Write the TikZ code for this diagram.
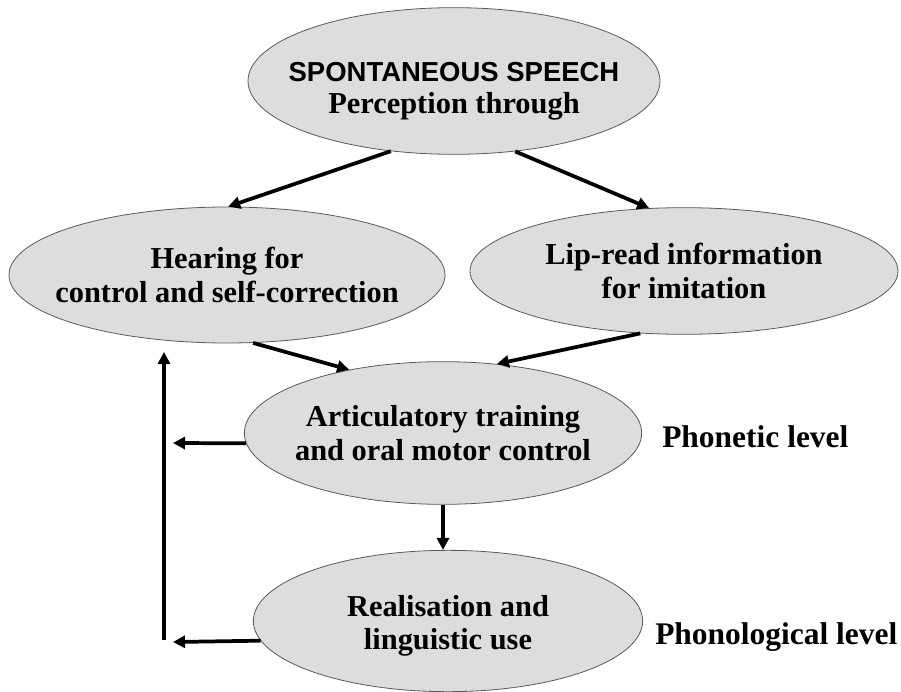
\documentclass[tikz,border=0pt]{standalone}
\usepackage{fontspec}
\setmainfont{Liberation Serif}
\setsansfont{Liberation Sans}
\usetikzlibrary{arrows.meta,shapes.geometric}
\definecolor{ovalgray}{RGB}{221,221,221}
\definecolor{rimgray}{RGB}{90,90,90}

\begin{document}
\begin{tikzpicture}[
    x=0.75pt,
    y=-0.75pt,
    oval/.style={ellipse, fill=ovalgray, draw=rimgray, line width=0.6pt,
        inner sep=-40pt, align=center,
        font=\bfseries\fontsize{22.8}{25}\selectfont},
    arr/.style={line width=2.8pt, -{Triangle[length=9pt,width=9pt]}},
    lvl/.style={anchor=west, inner sep=0pt,
        font=\bfseries\fontsize{23.6}{25}\selectfont}
]
\useasboundingbox (0,0) rectangle (901,692);

% Ovals
\node[oval, minimum width=309pt, minimum height=110pt] (spont) at (454,81)
    {\rule{0pt}{30pt}{\sffamily\fontsize{20.6}{24}\selectfont SPONTANEOUS SPEECH}\\[-1pt]Perception through};
\node[oval, minimum width=327pt, minimum height=102pt] (hear) at (227,275)
    {Hearing for\\control and self-correction};
\node[oval, minimum width=321pt, minimum height=95pt] (lip) at (684,271)
    {Lip-read information\\for imitation};
\node[oval, minimum width=298pt, minimum height=107pt] (artic) at (443,433)
    {Articulatory training\\and oral motor control};
\node[oval, minimum width=292pt, minimum height=106pt] (real) at (448,621)
    {\rule{0pt}{23pt}Realisation and\\linguistic use};

% Level labels
\node[lvl] (phonetic) at (662,437) {Phonetic level};
\node[lvl] (phonol) at (655,637) {Phonological level};

% Feedback loop ends
\coordinate (tipA) at (173,443);
\coordinate (tipB) at (173,642);
\coordinate (loopbot) at (164,640);
\coordinate (looptop) at (164,352);

% Arrows
\draw[arr] (spont.228) -- (hear.89);
\draw[arr] (spont.311) -- (lip.119);
\draw[arr] (hear.291) -- (artic.146);
\draw[arr] (lip.235) -- (artic.52);
\draw[arr] (artic.south) -- (artic.south |- real.north);
\draw[arr] (artic.183) -- (tipA);
\draw[arr] (real.186) -- (tipB);
\draw[arr] (loopbot) -- (looptop);

\end{tikzpicture}
\end{document}
